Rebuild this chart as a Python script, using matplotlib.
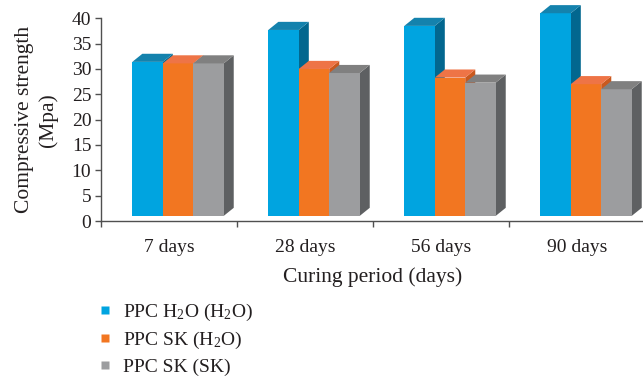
import matplotlib
matplotlib.use("Agg")
import matplotlib.pyplot as plt
from matplotlib.patches import Polygon
from matplotlib.lines import Line2D
import numpy as np

plt.rcParams["font.family"] = ["Liberation Serif", "DejaVu Serif"]
plt.rcParams["mathtext.fontset"] = "custom"
plt.rcParams["mathtext.rm"] = "Liberation Serif"
plt.rcParams["mathtext.it"] = "Liberation Serif:italic"

# Data
categories = ["7 days", "28 days", "56 days", "90 days"]
series_labels = [
    r"PPC $\mathrm{H_2O}$ ($\mathrm{H_2O}$)",
    r"PPC SK ($\mathrm{H_2O}$)",
    "PPC SK (SK)",
]
ppc_h2o_h2o = [31.4, 37.7, 38.5, 41.0]
ppc_sk_h2o = [31.1, 30.0, 28.3, 27.0]
ppc_sk_sk = [31.1, 29.2, 27.3, 26.0]
y_ticks = [0, 5, 10, 15, 20, 25, 30, 35, 40]

series = [ppc_h2o_h2o, ppc_sk_h2o, ppc_sk_sk]
# (front, top, side) shades for each series
shades = [
    ("#00A4E0", "#1482AD", "#02678F"),
    ("#F27621", "#EE7446", "#C9591F"),
    ("#9C9D9F", "#808080", "#5E6062"),
]

TEXT = "#231F20"
AXIS = "#505050"

fig = plt.figure(figsize=(6.43, 3.81), dpi=100)
ax = fig.add_axes([101 / 643, 160 / 381, 544 / 643, 202.7 / 381])
ax.set_xlim(0, 4)
ax.set_ylim(0, 40)

bar_w = 0.224
shift = 0.066
floor = 1.0
DX, DY = 0.074, 1.6   # depth offset of the 3-D faces (data units)

for i in range(len(categories)):
    centre = i + 0.5 + shift
    for k, vals in enumerate(series):
        front, top, side = shades[k]
        x0 = centre + (k - 1) * bar_w - bar_w / 2
        x1 = x0 + bar_w
        v = vals[i]
        # side face
        ax.add_patch(Polygon([(x1, floor), (x1 + DX, floor + DY), (x1 + DX, v + DY), (x1, v)],
                             closed=True, facecolor=side, edgecolor="none", clip_on=False, zorder=3))
        # front face
        ax.bar(x0, v - floor, width=bar_w, bottom=floor, align="edge",
               color=front, edgecolor="none", zorder=3, clip_on=False)
        # top face
        ax.add_patch(Polygon([(x0, v), (x1, v), (x1 + DX, v + DY), (x0 + DX, v + DY)],
                             closed=True, facecolor=top, edgecolor="none", clip_on=False, zorder=3))

ax.set_xticks(np.arange(0, 5))
ax.set_xticklabels([])
ax.set_xticks(np.arange(len(categories)) + 0.5, minor=True)
ax.set_xticklabels(categories, minor=True)
ax.tick_params(axis="x", which="minor", length=0, pad=13, labelsize=14, labelcolor=TEXT)
ax.tick_params(axis="x", which="major", length=4, width=1, color=AXIS, direction="out")
ax.set_yticks(y_ticks)
ax.tick_params(axis="y", length=4, width=1, color=AXIS, direction="out", pad=3,
               labelsize=14, labelcolor=TEXT)

for s in ("top", "right"):
    ax.spines[s].set_visible(False)
for s in ("left", "bottom"):
    ax.spines[s].set_color(AXIS)
    ax.spines[s].set_linewidth(1)

ax.set_xlabel("Curing period (days)", fontsize=15.5, color=TEXT, labelpad=8)
ax.set_ylabel("Compressive strength\n(Mpa)", fontsize=15.5, color=TEXT, labelpad=10,
              linespacing=1.25)

handles = [Line2D([], [], marker="s", linestyle="none", markersize=5.5,
                  markerfacecolor=sh[0], markeredgecolor="none") for sh in shades]
fig.legend(handles, series_labels, loc="upper left", bbox_to_anchor=(98 / 643, 1 - 302 / 381),
           frameon=False, fontsize=14, handlelength=0.7, handletextpad=0.6,
           labelspacing=0.36, borderpad=0, borderaxespad=0, labelcolor=TEXT)

fig.savefig("out.png", dpi=100)
